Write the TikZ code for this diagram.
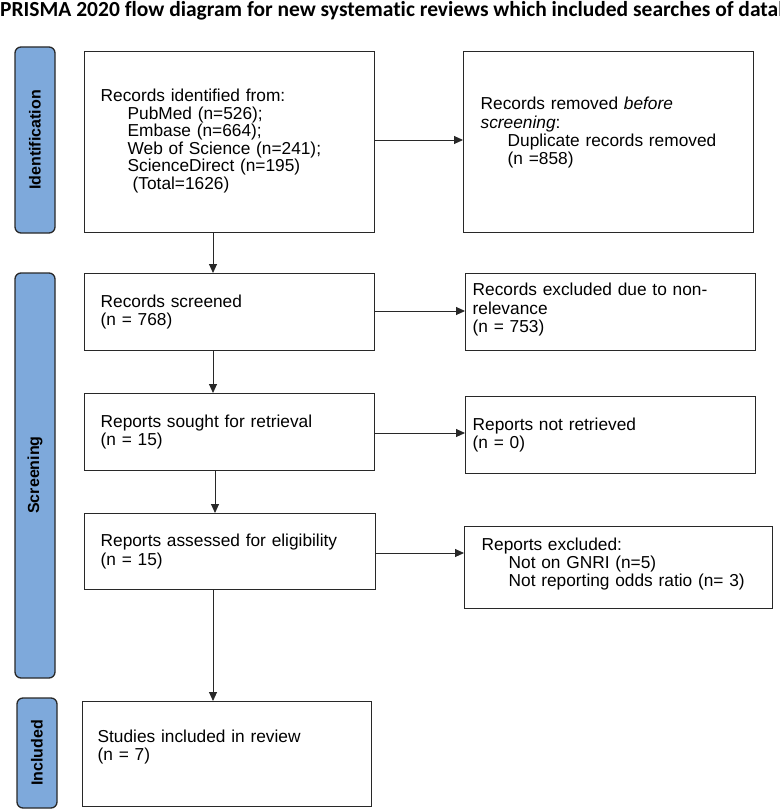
\documentclass[tikz,border=0pt]{standalone}
\usepackage{fontspec}
\setmainfont{Liberation Sans}
\newfontfamily\titlefont[Ligatures=NoCommon]{Carlito}
\usetikzlibrary{arrows.meta}
\definecolor{barblue}{RGB}{126,169,219}
\definecolor{edge}{RGB}{40,40,40}
\tikzset{
  box/.style={draw=edge, line width=1.3pt, fill=white, align=left, anchor=north west,
    inner ysep=0pt, font=\fontsize{17.3}{18.3}\selectfont},
  bar/.style={draw=edge, line width=1.3pt, fill=barblue, rounded corners=6pt},
  bartext/.style={font=\fontsize{16}{18}\selectfont\bfseries, rotate=90},
  arr/.style={draw=edge, line width=0.9pt, -{Triangle[length=9pt,width=8pt]}},
}
\newcommand{\ind}{\hspace*{27pt}}
\begin{document}
\begin{tikzpicture}[x=1pt,y=-1pt]
\useasboundingbox (0,0) rectangle (779,810);
\begin{scope}
\clip (0,0) rectangle (779,810);
\node[anchor=north west, inner sep=0pt, font=\titlefont\fontsize{21.5}{23}\selectfont\bfseries] (title) at (0,1)
  {PRISMA 2020 flow diagram for new systematic reviews which included searches of databases};
\end{scope}
% side bars
\draw[bar] (15,47) rectangle (55,233);
\node[bartext] (lid) at (35,140) {Identification};
\draw[bar] (15,273) rectangle (55,678);
\node[bartext] (lsc) at (35,475) {Screening};
\draw[bar] (17,698) rectangle (57,808);
\node[bartext] (lin) at (37,753) {Included};
% left boxes
\node[box, inner xsep=16pt, text width=258pt, minimum height=181pt] (b1) at (84,51)
 {Records identified from:\\[-0.8pt]
  \ind PubMed (n=526);\\[-0.8pt]
  \ind Embase (n=664);\\[-0.8pt]
  \ind Web of Science (n=241);\\[-0.8pt]
  \ind ScienceDirect (n=195)\\[-0.8pt]
  \hspace*{32pt}(Total=1626)\\[-12pt]\mbox{}};
\node[box, inner xsep=16pt, text width=258pt, minimum height=77pt] (b2) at (84,273)
 {Records screened\\(n = 768)};
\node[box, inner xsep=16pt, text width=258pt, minimum height=77pt] (b3) at (84,393)
 {Reports sought for retrieval\\(n = 15)};
\node[box, inner xsep=16pt, text width=259pt, minimum height=76pt] (b4) at (84,513)
 {Reports assessed for eligibility\\(n = 15)};
\node[box, inner xsep=15pt, text width=259pt, minimum height=105pt] (b5) at (82,701)
 {Studies included in review\\(n = 7)\\\mbox{}};
% right boxes
\node[box, inner xsep=17pt, text width=256pt, minimum height=181pt] (r1) at (463,51)
 {Records removed \textit{before}\\
  \textit{screening}:\\
  \ind Duplicate records removed\\
  \ind (n =858)\\[3.7pt]\mbox{}};
\node[box, inner xsep=7pt, text width=276pt, minimum height=77pt] (r2) at (465,273)
 {\mbox{}\\[-11pt]Records excluded due to non-\\relevance\\(n = 753)};
\node[box, inner xsep=7pt, text width=276pt, minimum height=77pt] (r3) at (465,396)
 {Reports not retrieved\\(n = 0)};
\node[box, inner xsep=17pt, text width=274pt, minimum height=82pt] (r4) at (464,526)
 {Reports excluded:\\
  \ind Not on GNRI (n=5)\\
  \ind Not reporting odds ratio (n= 3)\\[-7.3pt]\mbox{}};
% connectors
\draw[arr] (b1.south -| 213,0) -- (b2.north -| 213,0);
\draw[arr] (b2.south -| 213,0) -- (b3.north -| 213,0);
\draw[arr] (b3.south -| 215,0) -- (b4.north -| 215,0);
\draw[arr] (b4.south -| 213,0) -- (b5.north -| 213,0);
\draw[arr] (b1.east |- 0,140) -- (r1.west |- 0,140);
\draw[arr] (b2.east |- 0,311) -- (r2.west |- 0,311);
\draw[arr] (b3.east |- 0,433) -- (r3.west |- 0,433);
\draw[arr] (b4.east |- 0,553) -- (r4.west |- 0,553);
\end{tikzpicture}
\end{document}
